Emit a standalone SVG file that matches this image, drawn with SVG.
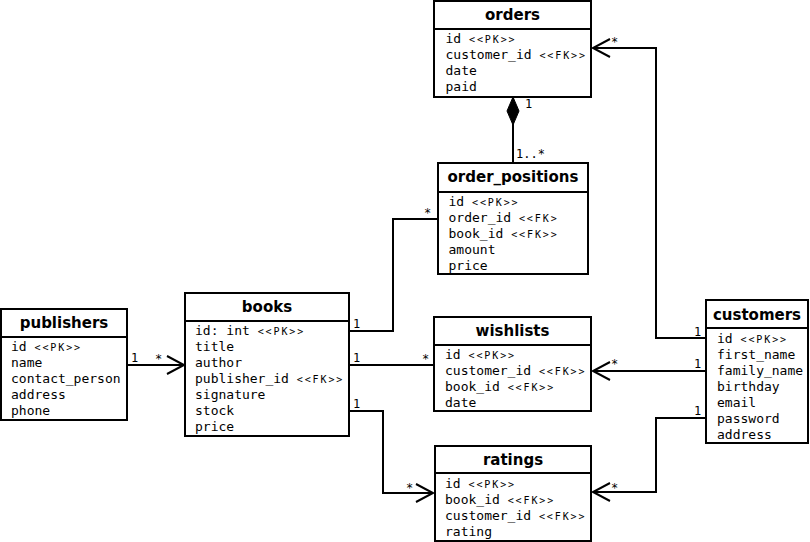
<svg xmlns="http://www.w3.org/2000/svg" width="810" height="542" viewBox="0 0 810 542">
  <style>
    .box { fill: #ffffff; stroke: #000000; stroke-width: 2; }
    .sep { stroke: #000000; stroke-width: 2; }
    .title { font-family: "DejaVu Sans", "Liberation Sans", sans-serif; font-weight: bold; font-size: 15px; text-anchor: middle; fill: #000; }
    .attr { font-family: "DejaVu Sans Mono", "Liberation Mono", monospace; font-size: 13px; fill: #000; }
    .st { font-size: 10px; letter-spacing: 1.9px; }
    .lbl { font-family: "DejaVu Sans Mono", "Liberation Mono", monospace; font-size: 12px; fill: #000; }
    .conn { fill: none; stroke: #000000; stroke-width: 2; }
  </style>
  <defs>
    <marker id="open-arrow" markerUnits="userSpaceOnUse" viewBox="-20 -11 22 22" markerWidth="22" markerHeight="22" refX="0" refY="0" orient="auto" overflow="visible">
      <path d="M-17,-9 L0,0 L-17,9" fill="none" stroke="#000" stroke-width="2"/>
    </marker>
    <marker id="diamond" markerUnits="userSpaceOnUse" viewBox="-1 -7 30 14" markerWidth="30" markerHeight="14" refX="0" refY="0" orient="auto" overflow="visible">
      <path d="M0,0 L14,-6 L28,0 L14,6 Z" fill="#000" stroke="#000" stroke-width="1"/>
    </marker>
  </defs>

  <!-- connectors -->
  <g id="connectors">
    <!-- orders (composition) to order_positions -->
    <path class="conn" d="M513,97 V163" marker-start="url(#diamond)"/>
    <text class="lbl" x="525" y="108">1</text>
    <text class="lbl" x="516" y="158">1..*</text>

    <!-- customers to orders -->
    <path class="conn" d="M706,338 H656 V48 H593" marker-end="url(#open-arrow)"/>
    <text class="lbl" x="694" y="336">1</text>
    <text class="lbl" x="611" y="46">*</text>

    <!-- customers to wishlists -->
    <path class="conn" d="M706,371 H593" marker-end="url(#open-arrow)"/>
    <text class="lbl" x="694" y="368">1</text>
    <text class="lbl" x="611" y="368">*</text>

    <!-- customers to ratings -->
    <path class="conn" d="M706,418 H656 V492 H593" marker-end="url(#open-arrow)"/>
    <text class="lbl" x="694" y="415">1</text>
    <text class="lbl" x="611" y="492">*</text>

    <!-- books to order_positions -->
    <path class="conn" d="M349,331 H393 V219 H438"/>
    <text class="lbl" x="353" y="328">1</text>
    <text class="lbl" x="424" y="217">*</text>

    <!-- books to wishlists -->
    <path class="conn" d="M349,365 H434"/>
    <text class="lbl" x="353" y="362">1</text>
    <text class="lbl" x="422" y="363">*</text>

    <!-- books to ratings -->
    <path class="conn" d="M349,411 H383 V493 H433" marker-end="url(#open-arrow)"/>
    <text class="lbl" x="353" y="408">1</text>
    <text class="lbl" x="406" y="492">*</text>

    <!-- publishers to books -->
    <path class="conn" d="M127,365 H184" marker-end="url(#open-arrow)"/>
    <text class="lbl" x="131" y="362">1</text>
    <text class="lbl" x="155" y="363">*</text>
  </g>

  <!-- orders -->
  <g id="orders">
    <rect class="box" x="434" y="1" width="157" height="96"/>
    <line class="sep" x1="434" y1="29" x2="591" y2="29"/>
    <text class="title" x="512.5" y="20">orders</text>
    <text class="attr" x="445.5" y="43">id <tspan class="st">&lt;&lt;PK&gt;&gt;</tspan></text>
    <text class="attr" x="445.5" y="59">customer_id <tspan class="st">&lt;&lt;FK&gt;&gt;</tspan></text>
    <text class="attr" x="445.5" y="75">date</text>
    <text class="attr" x="445.5" y="91">paid</text>
  </g>

  <!-- order_positions -->
  <g id="order_positions">
    <rect class="box" x="438" y="163" width="150" height="111"/>
    <line class="sep" x1="438" y1="192" x2="588" y2="192"/>
    <text class="title" x="513" y="182">order_positions</text>
    <text class="attr" x="448.5" y="206">id <tspan class="st">&lt;&lt;PK&gt;&gt;</tspan></text>
    <text class="attr" x="448.5" y="222">order_id <tspan class="st">&lt;&lt;FK&gt;</tspan></text>
    <text class="attr" x="448.5" y="238">book_id <tspan class="st">&lt;&lt;FK&gt;&gt;</tspan></text>
    <text class="attr" x="448.5" y="254">amount</text>
    <text class="attr" x="448.5" y="270">price</text>
  </g>

  <!-- publishers -->
  <g id="publishers">
    <rect class="box" x="1" y="309" width="126" height="111"/>
    <line class="sep" x1="1" y1="337" x2="127" y2="337"/>
    <text class="title" x="64" y="328">publishers</text>
    <text class="attr" x="11" y="351">id <tspan class="st">&lt;&lt;PK&gt;&gt;</tspan></text>
    <text class="attr" x="11" y="367">name</text>
    <text class="attr" x="11" y="383">contact_person</text>
    <text class="attr" x="11" y="399">address</text>
    <text class="attr" x="11" y="415">phone</text>
  </g>

  <!-- books -->
  <g id="books">
    <rect class="box" x="185" y="293" width="164" height="143"/>
    <line class="sep" x1="185" y1="321" x2="349" y2="321"/>
    <text class="title" x="267" y="312">books</text>
    <text class="attr" x="195" y="335">id: int <tspan class="st">&lt;&lt;PK&gt;&gt;</tspan></text>
    <text class="attr" x="195" y="351">title</text>
    <text class="attr" x="195" y="367">author</text>
    <text class="attr" x="195" y="383">publisher_id <tspan class="st">&lt;&lt;FK&gt;&gt;</tspan></text>
    <text class="attr" x="195" y="399">signature</text>
    <text class="attr" x="195" y="415">stock</text>
    <text class="attr" x="195" y="431">price</text>
  </g>

  <!-- wishlists -->
  <g id="wishlists">
    <rect class="box" x="434" y="317" width="157" height="94"/>
    <line class="sep" x1="434" y1="345" x2="591" y2="345"/>
    <text class="title" x="512.5" y="336">wishlists</text>
    <text class="attr" x="445" y="359">id <tspan class="st">&lt;&lt;PK&gt;&gt;</tspan></text>
    <text class="attr" x="445" y="375">customer_id <tspan class="st">&lt;&lt;FK&gt;&gt;</tspan></text>
    <text class="attr" x="445" y="391">book_id <tspan class="st">&lt;&lt;FK&gt;&gt;</tspan></text>
    <text class="attr" x="445" y="407">date</text>
  </g>

  <!-- customers -->
  <g id="customers">
    <rect class="box" x="706" y="300" width="102" height="143"/>
    <line class="sep" x1="706" y1="328" x2="808" y2="328"/>
    <text class="title" x="757" y="320">customers</text>
    <text class="attr" x="717" y="343">id <tspan class="st">&lt;&lt;PK&gt;&gt;</tspan></text>
    <text class="attr" x="717" y="359">first_name</text>
    <text class="attr" x="717" y="375">family_name</text>
    <text class="attr" x="717" y="391">birthday</text>
    <text class="attr" x="717" y="407">email</text>
    <text class="attr" x="717" y="423">password</text>
    <text class="attr" x="717" y="439">address</text>
  </g>

  <!-- ratings -->
  <g id="ratings">
    <rect class="box" x="435" y="446" width="156" height="95"/>
    <line class="sep" x1="435" y1="473" x2="591" y2="473"/>
    <text class="title" x="513" y="465">ratings</text>
    <text class="attr" x="445" y="488">id <tspan class="st">&lt;&lt;PK&gt;&gt;</tspan></text>
    <text class="attr" x="445" y="504">book_id <tspan class="st">&lt;&lt;FK&gt;&gt;</tspan></text>
    <text class="attr" x="445" y="520">customer_id <tspan class="st">&lt;&lt;FK&gt;&gt;</tspan></text>
    <text class="attr" x="445" y="536">rating</text>
  </g>
</svg>
